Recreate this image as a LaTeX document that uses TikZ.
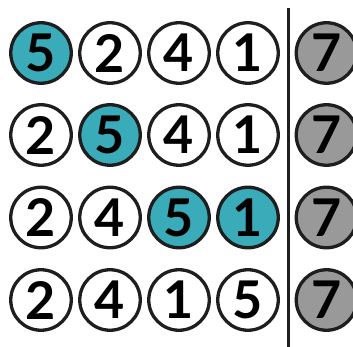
\documentclass[tikz,border=0pt]{standalone}
\usepackage{fontspec}
\setmainfont{Lato}
\definecolor{teal1}{HTML}{3AABB8}
\definecolor{gray1}{HTML}{999999}
\definecolor{edge1}{HTML}{1E1E1E}
\begin{document}
\begin{tikzpicture}[x=1pt,y=-1pt,
  ball/.style={circle,draw=edge1,line width=3.3pt,minimum size=60.5pt,inner sep=0pt,fill=white,font=\fontsize{52}{52}\selectfont\bfseries},
  hl/.style={ball,fill=teal1},
  gr/.style={ball,fill=gray1}]
\useasboundingbox (0,0) rectangle (353,347);
\clip (0,0) rectangle (353,347);
% row 1
\node[hl]   (a1) at (41,53) {5};
\node[ball] (b1) at (110,53) {2};
\node[ball] (c1) at (179,53) {4};
\node[ball] (d1) at (248,53) {1};
\node[gr]   (e1) at (326.5,53) {7};
% row 2
\node[ball] (a2) at (41,135) {2};
\node[hl]   (b2) at (110,135) {5};
\node[ball] (c2) at (179,135) {4};
\node[ball] (d2) at (248,135) {1};
\node[gr]   (e2) at (326.5,135) {7};
% row 3
\node[ball] (a3) at (41,217.5) {2};
\node[ball] (b3) at (110,217.5) {4};
\node[hl]   (c3) at (179,217.5) {5};
\node[hl]   (d3) at (248,217.5) {1};
\node[gr]   (e3) at (326.5,217.5) {7};
% row 4
\node[ball] (a4) at (41,300) {2};
\node[ball] (b4) at (110,300) {4};
\node[ball] (c4) at (179,300) {1};
\node[ball] (d4) at (248,300) {5};
\node[gr]   (e4) at (326.5,300) {7};
% divider
\coordinate (top) at (288,8);
\coordinate (bot) at (288,347);
\draw[edge1,line width=3pt] (top) -- (bot);
\end{tikzpicture}
\end{document}
